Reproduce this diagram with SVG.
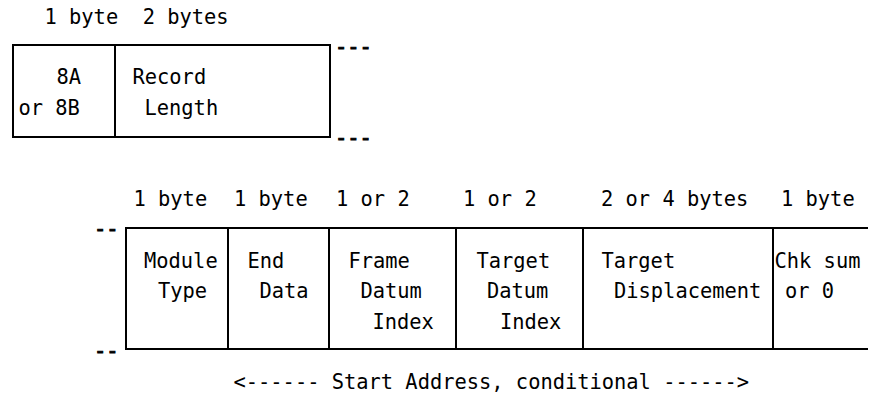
<svg xmlns="http://www.w3.org/2000/svg" width="870" height="396" viewBox="0 0 870 396">
  <style>
    text { font-family: "DejaVu Sans Mono", "Liberation Mono", monospace; font-size: 20.4px; fill: #000; white-space: pre; }
    .dash { stroke: #000; stroke-width: 0.9; }
    .box { fill: #fff; stroke: #000; stroke-width: 2; }
    .open { fill: none; stroke: #000; stroke-width: 2; }
  </style>
  <rect x="0" y="0" width="870" height="396" fill="#fff"/>

  <g id="header-top">
    <text x="44.5" y="24" xml:space="preserve">1 byte  2 bytes</text>
  </g>

  <g id="field-8A">
    <rect class="box" x="13" y="45" width="102" height="92"/>
    <text x="56.5" y="84">8A</text>
    <text x="18.5" y="115">or 8B</text>
  </g>
  <g id="field-record-length">
    <rect class="box" x="115" y="45" width="215" height="92"/>
    <text x="132.5" y="84">Record</text>
    <text x="144.5" y="115">Length</text>
  </g>

  <g id="header-bottom">
    <text x="133.5" y="206">1 byte</text>
    <text x="234" y="206">1 byte</text>
    <text x="336" y="206">1 or 2</text>
    <text x="463" y="206">1 or 2</text>
    <text x="601" y="206">2 or 4 bytes</text>
    <text x="781" y="206">1 byte</text>
  </g>

  <g id="field-module-type">
    <rect class="box" x="126" y="228" width="102" height="121"/>
    <text x="144" y="267.5">Module</text>
    <text x="158" y="298">Type</text>
  </g>
  <g id="field-end-data">
    <rect class="box" x="228" y="228" width="101" height="121"/>
    <text x="247.5" y="267.5">End</text>
    <text x="259.5" y="298">Data</text>
  </g>
  <g id="field-frame-datum-index">
    <rect class="box" x="329" y="228" width="127" height="121"/>
    <text x="348.5" y="267.5">Frame</text>
    <text x="360.5" y="298">Datum</text>
    <text x="372.5" y="328.5">Index</text>
  </g>
  <g id="field-target-datum-index">
    <rect class="box" x="456" y="228" width="127" height="121"/>
    <text x="476.5" y="267.5">Target</text>
    <text x="487" y="298">Datum</text>
    <text x="500" y="328.5">Index</text>
  </g>
  <g id="field-target-displacement">
    <rect class="box" x="583" y="228" width="190" height="121"/>
    <text x="601.5" y="267.5">Target</text>
    <text x="614" y="298">Displacement</text>
  </g>
  <g id="field-chk-sum">
    <path class="open" d="M773,228 H868 M773,349 H868"/>
    <text x="774.5" y="267.5">Chk sum</text>
    <text x="785" y="298">or 0</text>
  </g>

  <g id="connectors">
    <text class="dash" x="335" y="53.6">---</text>
    <text class="dash" x="335" y="144.6">---</text>
    <text class="dash" x="94" y="235.6">--</text>
    <text class="dash" x="94" y="357.6">--</text>
  </g>

  <g id="footer">
    <text x="233.5" y="389">&lt;------ Start Address, conditional ------&gt;</text>
  </g>
</svg>
